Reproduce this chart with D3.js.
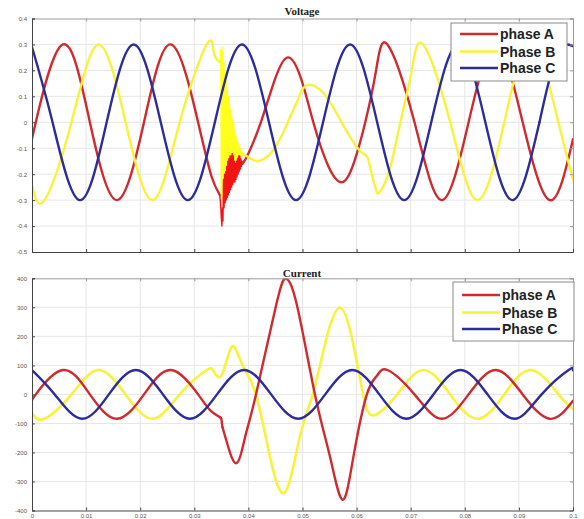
<!DOCTYPE html>
<html><head><meta charset="utf-8">
<script src="https://cdn.jsdelivr.net/npm/d3@7"></script>
<style>body{margin:0;background:#fff}svg{display:block}</style>
</head><body>
<svg id="chart" width="584" height="519"></svg>
<script>
// ---------- data ----------
const xTickValues = [0,0.01,0.02,0.03,0.04,0.05,0.06,0.07,0.08,0.09,0.1];
const xTickLabels = ["0","0.01","0.02","0.03","0.04","0.05","0.06","0.07","0.08","0.09","0.1"];
const voltTickValues = [0.4,0.3,0.2,0.1,0,-0.1,-0.2,-0.3,-0.4,-0.5];
const voltTickLabels = ["0.4","0.3","0.2","0.1","0","-0.1","-0.2","-0.3","-0.4","-0.5"];
const currTickValues = [400,300,200,100,0,-100,-200,-300,-400];
const currTickLabels = ["400","300","200","100","0","-100","-200","-300","-400"];
const seriesNames = ["phase A","Phase B","Phase C"];
const panelTitles = ["Voltage","Current"];

// Voltage, phase A  [time s, value]
const voltA_pre = [[0,-0.065],[0.0007,0],[0.0057,0.3],[0.0107,0],[0.0157,-0.3],[0.0207,0],[0.0257,0.3],[0.0307,0],[0.0332,-0.21],[0.0347,-0.28]];
const voltA_fault = [[0.0347,-0.28],[0.0348,-0.30],[0.0349,-0.33],[0.0350,-0.37],[0.0351,-0.40],[0.0352,-0.33],[0.0353,-0.38],[0.0354,-0.22],[0.0355,-0.33],[0.0356,-0.20],[0.0357,-0.31],[0.0358,-0.19],[0.0359,-0.30],[0.0360,-0.17],[0.0361,-0.29],[0.0362,-0.15],[0.0363,-0.28],[0.0364,-0.14],[0.0365,-0.27],[0.0366,-0.13],[0.0367,-0.26],[0.0368,-0.13],[0.0369,-0.25],[0.0370,-0.12],[0.0371,-0.24],[0.0372,-0.13],[0.0373,-0.23],[0.0374,-0.15],[0.0375,-0.23],[0.0376,-0.16],[0.0377,-0.22],[0.0378,-0.15],[0.0379,-0.21],[0.0380,-0.14],[0.0381,-0.20],[0.0382,-0.13],[0.0383,-0.19],[0.0384,-0.13],[0.0385,-0.18],[0.0386,-0.14],[0.0387,-0.17],[0.0388,-0.15],[0.0389,-0.16]];
const voltA_post = [[0.0389,-0.16],[0.0400,-0.12],[0.0423,0],[0.0449,0.165],[0.0473,0.25],[0.0497,0.17],[0.0520,0],[0.0548,-0.17],[0.0575,-0.23],[0.0596,-0.15],[0.0616,0],[0.0636,0.2],[0.0657,0.3],[0.0707,0],[0.0757,-0.3],[0.0807,0],[0.0857,0.3],[0.0907,0],[0.0957,-0.3],[0.1,-0.065]];
// Voltage, phase B
const voltB_pre = [[0,-0.243],[0.0023,-0.3],[0.0073,0],[0.0123,0.3],[0.0173,0],[0.0223,-0.3],[0.0273,0],[0.0323,0.3],[0.0336,0.27],[0.0348,0.23]];
const voltB_fault = [[0.0348,0.23],[0.0349,0.28],[0.0350,-0.28],[0.0351,0.29],[0.0352,-0.30],[0.0353,0.27],[0.0354,-0.29],[0.0355,0.23],[0.0356,-0.27],[0.0357,0.19],[0.0358,-0.26],[0.0359,0.16],[0.0360,-0.24],[0.0361,0.13],[0.0362,-0.23],[0.0363,0.10],[0.0364,-0.22],[0.0365,0.07],[0.0366,-0.21],[0.0367,0.05],[0.0368,-0.20],[0.0369,0.03],[0.0370,-0.19],[0.0371,0.01],[0.0372,-0.18],[0.0373,-0.01],[0.0374,-0.18],[0.0375,-0.03],[0.0376,-0.17],[0.0377,-0.05],[0.0378,-0.16],[0.0379,-0.07],[0.0380,-0.16],[0.0381,-0.08],[0.0382,-0.15],[0.0383,-0.09],[0.0384,-0.15],[0.0385,-0.10],[0.0386,-0.14],[0.0387,-0.11],[0.0388,-0.13],[0.0389,-0.12]];
const voltB_post = [[0.0389,-0.12],[0.0405,-0.14],[0.0416,-0.15],[0.0430,-0.14],[0.0445,-0.11],[0.0462,-0.05],[0.0477,0.02],[0.0490,0.08],[0.0501,0.13],[0.0514,0.145],[0.0526,0.135],[0.0538,0.115],[0.0556,0.06],[0.0575,-0.01],[0.0592,-0.07],[0.0606,-0.11],[0.0615,-0.125],[0.0621,-0.14],[0.0628,-0.2],[0.0636,-0.26],[0.0642,-0.27],[0.0660,-0.19],[0.0681,0],[0.0702,0.2],[0.0723,0.3],[0.0773,0],[0.0823,-0.3],[0.0873,0],[0.0923,0.3],[0.0973,0],[0.1,-0.22]];
// Voltage, phase C
const voltC = [[0,0.29],[0.0038,0],[0.0088,-0.3],[0.0138,0],[0.0188,0.3],[0.0238,0],[0.0288,-0.3],[0.0338,0],[0.0388,0.3],[0.0438,0],[0.0488,-0.3],[0.0538,0],[0.0588,0.3],[0.0638,0],[0.0688,-0.3],[0.0738,0],[0.0788,0.3],[0.0838,0],[0.0888,-0.3],[0.0938,0]];
const voltC_end = [[0.0938,0],[0.0963,0.212],[0.0988,0.3],[0.1,0.294]];

// Current, phase A
const currA_pre = [[0,-20],[0.0007,0],[0.0057,84],[0.0107,0],[0.0157,-84],[0.0207,0],[0.0257,84],[0.0307,0],[0.0330,-56],[0.0348,-79]];
const currA_jump = [[0.0348,-79],[0.0350,-84],[0.0352,-113]];
const currA_post = [[0.0352,-113],[0.0361,-170],[0.0369,-216],[0.0378,-237],[0.0387,-200],[0.0397,-124],[0.0414,0],[0.0452,313],[0.0469,399],[0.0489,313],[0.0523,0],[0.0551,-216],[0.0574,-363],[0.0594,-216],[0.0619,0],[0.0638,65],[0.0657,84],[0.0707,0],[0.0757,-84],[0.0807,0],[0.0857,84],[0.0907,0],[0.0957,-84],[0.1,-22]];
// Current, phase B
const currB = [[0,-65],[0.0023,-84],[0.0073,0],[0.0123,84],[0.0173,0],[0.0223,-84],[0.0273,0],[0.0323,84],[0.0336,78],[0.0348,60],[0.0357,100],[0.0366,152],[0.0375,161],[0.0391,94],[0.0414,0],[0.0440,-216],[0.0468,-337],[0.0495,-147],[0.0519,0],[0.0545,198],[0.0569,299],[0.0591,198],[0.0612,0],[0.0632,-72],[0.0675,0],[0.0723,84],[0.0773,0],[0.0823,-84],[0.0873,0],[0.0923,84],[0.0973,0],[0.1,-50]];
// Current, phase C
const currC = [[0,84],[0.0042,0],[0.0092,-84],[0.0142,0],[0.0192,84],[0.0242,0],[0.0292,-84],[0.0342,0],[0.0392,84],[0.0442,0],[0.0492,-84],[0.0542,0],[0.0592,84],[0.0642,0],[0.0692,-84],[0.0742,0],[0.0792,84],[0.0842,0],[0.0892,-84],[0.0942,0],[0.0992,84],[0.1,83]];

// ---------- style ----------
const colA = "#cf2a2e", colB = "#f8f23a", colC = "#2c2c9a";
const colAfault = "#f01414", colBfault = "#ffff1e";

const svg = d3.select("#chart");
const x = d3.scaleLinear().domain([0,0.1]).range([32,573]);
const yV = d3.scaleLinear().domain([-0.5,0.4]).range([252,18.5]);
const yI = d3.scaleLinear().domain([-400,400]).range([510.5,278.3]);

function panel(id, yScale, yVals, yLabels, showX, segments, legendBox, legendYs, title, titleY) {
  const [y0, y1] = yScale.range(); // bottom, top
  const g = svg.append("g");
  // grid
  g.append("g").selectAll("line").data(xTickValues.slice(1,-1)).join("line")
    .attr("x1",d=>x(d)).attr("x2",d=>x(d)).attr("y1",y1).attr("y2",y0)
    .attr("stroke","#e6e6e6").attr("stroke-width",1);
  g.append("g").selectAll("line").data(yVals.slice(1,-1)).join("line")
    .attr("x1",x(0)).attr("x2",x(0.1)).attr("y1",d=>yScale(d)).attr("y2",d=>yScale(d))
    .attr("stroke","#e6e6e6").attr("stroke-width",1);
  // clip
  svg.append("clipPath").attr("id",id).append("rect")
    .attr("x",x(0)).attr("y",y1).attr("width",x(0.1)-x(0)).attr("height",y0-y1);
  const lg = g.append("g").attr("clip-path",`url(#${id})`);
  segments.forEach(s=>{
    const line = d3.line().x(d=>x(d[0])).y(d=>yScale(d[1])).curve(s.curve);
    lg.append("path").attr("d",line(s.data)).attr("fill","none")
      .attr("stroke",s.color).attr("stroke-width",s.w).attr("stroke-linejoin","round").attr("stroke-linecap","round");
  });
  // axes
  const styleAx = (a, col) => {
    a.attr("font-size",6).attr("font-family","Liberation Sans, Arial, sans-serif");
    a.select(".domain").attr("stroke",col);
    a.selectAll(".tick line").attr("stroke",col);
    a.selectAll(".tick text").attr("fill","#555");
  };
  const top = g.append("g").attr("transform",`translate(0,${y1})`)
    .call(d3.axisTop(x).tickValues(xTickValues).tickSize(-3).tickFormat(""));
  styleAx(top,"#9a9a9a");
  const right = g.append("g").attr("transform",`translate(${x(0.1)},0)`)
    .call(d3.axisRight(yScale).tickValues(yVals).tickSize(-3).tickFormat(""));
  styleAx(right,"#9a9a9a");
  const left = g.append("g").attr("transform",`translate(${x(0)},0)`)
    .call(d3.axisLeft(yScale).tickValues(yVals).tickSize(-3).tickPadding(5).tickFormat((d,i)=>yLabels[i]));
  styleAx(left,"#444");
  const bottom = g.append("g").attr("transform",`translate(0,${y0})`)
    .call(d3.axisBottom(x).tickValues(xTickValues).tickSize(-3).tickPadding(3).tickFormat((d,i)=>showX?xTickLabels[i]:""));
  styleAx(bottom,"#444");
  // title
  svg.append("text").attr("x",302).attr("y",titleY).attr("text-anchor","middle")
    .attr("font-family","Liberation Serif, Times New Roman, serif").attr("font-weight","bold")
    .attr("font-size",11).attr("fill","#222").text(title);
  // legend
  const [bx,by,bw,bh] = legendBox;
  const leg = svg.append("g");
  leg.append("rect").attr("x",bx).attr("y",by).attr("width",bw).attr("height",bh)
    .attr("fill","#fff").attr("stroke","#8a8a8a").attr("stroke-width",1);
  const cols = [colA,colB,colC];
  seriesNames.forEach((n,i)=>{
    const yy = legendYs[i];
    leg.append("line").attr("x1",bx+9).attr("x2",bx+47).attr("y1",yy).attr("y2",yy)
      .attr("stroke",cols[i]).attr("stroke-width",2.5);
    leg.append("text").attr("x",bx+49).attr("y",yy).attr("dy","0.36em")
      .attr("font-family","Liberation Sans, Arial, sans-serif").attr("font-weight","bold")
      .attr("font-size",14).attr("fill","#222").text(n);
  });
}

panel("clipV", yV, voltTickValues, voltTickLabels, false, [
  {data:voltA_pre, curve:d3.curveNatural, color:colA, w:2.4},
  {data:voltA_post, curve:d3.curveNatural, color:colA, w:2.4},
  {data:voltB_pre, curve:d3.curveNatural, color:colB, w:2.4},
  {data:voltB_post, curve:d3.curveNatural, color:colB, w:2.4},
  {data:voltB_fault, curve:d3.curveLinear, color:colBfault, w:1.4},
  {data:voltA_fault, curve:d3.curveLinear, color:colAfault, w:1.4},
  {data:voltC, curve:d3.curveNatural, color:colC, w:2.4},
  {data:voltC_end, curve:d3.curveMonotoneX, color:colC, w:2.4}
], [451,23,116,58], [34,51.5,68], panelTitles[0], 15);

panel("clipI", yI, currTickValues, currTickLabels, true, [
  {data:currB, curve:d3.curveNatural, color:colB, w:2.6},
  {data:currA_pre, curve:d3.curveNatural, color:colA, w:2.4},
  {data:currA_jump, curve:d3.curveLinear, color:colA, w:2.4},
  {data:currA_post, curve:d3.curveNatural, color:colA, w:2.4},
  {data:currC, curve:d3.curveNatural, color:colC, w:2.4}
], [453,282,121,59], [295,312.5,329], panelTitles[1], 277);
</script>
</body></html>
